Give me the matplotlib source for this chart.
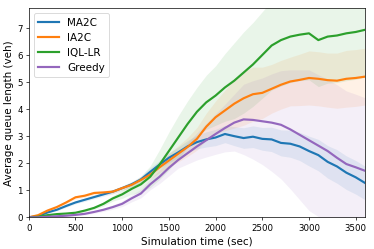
import numpy as np
import matplotlib
matplotlib.use("Agg")
import matplotlib.pyplot as plt

# simulation time (sec), one sample every 100 s
t = np.arange(0, 3601, 100)

# average queue length (veh) per controller
ma2c = [0, 0.05, 0.18, 0.28, 0.42, 0.55, 0.65, 0.75, 0.85, 0.95,
        1.08, 1.22, 1.4, 1.68, 1.95, 2.2, 2.4, 2.62, 2.78, 2.88,
        2.95, 3.08, 3.0, 2.93, 2.98, 2.9, 2.88, 2.75, 2.72, 2.62,
        2.45, 2.3, 2.05, 1.88, 1.65, 1.48, 1.27]
ia2c = [0, 0.08, 0.25, 0.38, 0.55, 0.74, 0.8, 0.9, 0.92, 0.95,
        1.08, 1.2, 1.38, 1.58, 1.85, 2.1, 2.35, 2.6, 2.9, 3.35,
        3.7, 3.95, 4.2, 4.4, 4.55, 4.6, 4.75, 4.9, 5.02, 5.08,
        5.15, 5.12, 5.07, 5.05, 5.12, 5.15, 5.2]
iql_lr = [0, 0.02, 0.08, 0.12, 0.14, 0.17, 0.25, 0.35, 0.5, 0.7,
          0.85, 1.05, 1.22, 1.5, 1.95, 2.45, 2.95, 3.45, 3.9, 4.25,
          4.5, 4.8, 5.05, 5.35, 5.65, 6.0, 6.35, 6.55, 6.68, 6.75,
          6.8, 6.55, 6.68, 6.72, 6.8, 6.85, 6.93]
greedy = [0, 0.0, 0.02, 0.04, 0.06, 0.09, 0.13, 0.2, 0.28, 0.38,
          0.5, 0.7, 0.88, 1.22, 1.5, 1.83, 2.12, 2.37, 2.62, 2.85,
          3.08, 3.3, 3.5, 3.62, 3.6, 3.55, 3.5, 3.42, 3.25, 3.05,
          2.85, 2.65, 2.45, 2.2, 1.97, 1.85, 1.72]

# standard deviation across runs
ma2c_std = [0, 0.03, 0.03, 0.04, 0.05, 0.05, 0.06, 0.06, 0.07, 0.08,
            0.08, 0.1, 0.12, 0.15, 0.15, 0.18, 0.2, 0.22, 0.25, 0.28,
            0.3, 0.32, 0.35, 0.38, 0.4, 0.42, 0.45, 0.48, 0.5, 0.52,
            0.55, 0.58, 0.6, 0.62, 0.62, 0.62, 0.62]
ia2c_std = [0, 0.03, 0.04, 0.05, 0.05, 0.06, 0.06, 0.07, 0.07, 0.08,
            0.08, 0.1, 0.12, 0.15, 0.2, 0.25, 0.3, 0.35, 0.42, 0.5,
            0.6, 0.75, 0.9, 1.0, 1.0, 0.95, 0.9, 0.9, 0.9, 0.95,
            1.0, 1.0, 1.0, 1.02, 1.05, 1.05, 1.05]
iql_lr_std = [0, 0.02, 0.02, 0.03, 0.03, 0.04, 0.04, 0.05, 0.08, 0.1,
              0.15, 0.2, 0.3, 0.4, 0.55, 0.7, 0.8, 0.85, 0.9, 1.0,
              1.1, 1.25, 1.4, 1.5, 1.55, 1.6, 1.65, 1.7, 1.7, 1.7,
              1.72, 1.72, 1.72, 1.74, 1.75, 1.75, 1.75]
greedy_std = [0, 0.02, 0.02, 0.03, 0.03, 0.04, 0.04, 0.05, 0.06, 0.08,
              0.1, 0.13, 0.16, 0.2, 0.25, 0.3, 0.3, 0.4, 0.5, 0.62,
              0.75, 0.88, 1.05, 1.3, 1.45, 1.6, 1.8, 2.0, 2.2, 2.4,
              2.6, 2.62, 2.65, 2.7, 2.7, 2.7, 2.7]

names = ["MA2C", "IA2C", "IQL-LR", "Greedy"]
means = [ma2c, ia2c, iql_lr, greedy]
stds = [ma2c_std, ia2c_std, iql_lr_std, greedy_std]
colors = ["C0", "C1", "C2", "C4"]

fig = plt.figure(figsize=(6, 4), dpi=374/6)
ax = fig.add_axes([0.077, 0.127, 0.899, 0.840])

for name, m, s, c in zip(names, means, stds, colors):
    m = np.array(m)
    s = np.array(s)
    ax.fill_between(t, m - s, m + s, color=c, alpha=0.1, linewidth=0)
    ax.plot(t, m, color=c, linewidth=2.5, label=name)

ax.set_xlim(0, 3600)
ax.set_ylim(0, 7.74)
ax.set_xticks(np.arange(0, 3501, 500))
ax.set_yticks(np.arange(0, 8))
ax.tick_params(labelsize=10)
ax.set_xlabel("Simulation time (sec)", fontsize=12)
ax.set_ylabel("Average queue length (veh)", fontsize=12)
ax.legend(loc="upper left", fontsize=12)

fig.savefig("out.png", dpi=374/6)
